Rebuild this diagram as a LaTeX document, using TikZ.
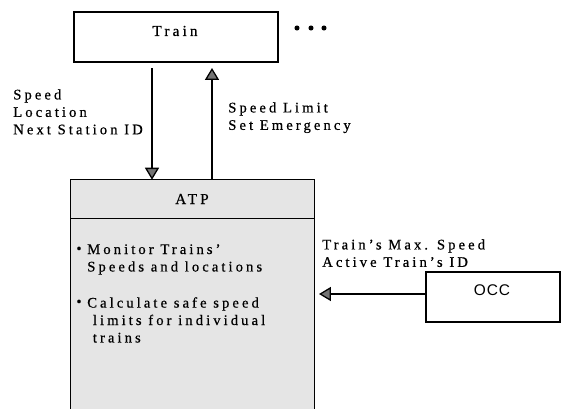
\documentclass[tikz,border=0pt]{standalone}
\usepackage{fontspec}
\setmainfont{Liberation Serif}[LetterSpace=21,FakeBold=0.6]
\newfontfamily\occfont{Liberation Sans}[LetterSpace=6]
\usetikzlibrary{arrows.meta}

\begin{document}
\begin{tikzpicture}[x=0.025cm,y=-0.025cm,unit/.style={draw,line width=1pt,fill=white,inner sep=0pt,minimum width=5.1cm,minimum height=1.25cm},txt/.style={inner sep=0pt,align=left,font=\fontsize{10.4}{12.4}\selectfont},flow/.style={line width=0.9pt,-{Triangle[length=8.5pt,width=10pt,fill=black!55]}}]
\useasboundingbox (0,0) rectangle (561,409);
\node[unit] (train) at (176,37) {};
\node[txt,font=\fontsize{10.8}{12}\selectfont] (trainlbl) at (175,31) {Train};
\foreach \i/\x in {1/297,2/311,3/324}
  \node[circle,fill=black,inner sep=0pt,minimum size=3.6pt] (dot\i) at (\x,28) {};
\node[fill=black!10,inner sep=0pt,minimum width=6.075cm,minimum height=5.75cm] (atp) at (192.5,295) {};
\draw[line width=1pt] (atp.south west) -- (atp.north west) -- (atp.north east) -- (atp.south east);
\draw[line width=1pt] ([yshift=-0.975cm]atp.north west) -- ([yshift=-0.975cm]atp.north east);
\node[txt,font=\fontsize{10.8}{12}\selectfont] (atplbl) at (192,199) {ATP};
\node[unit,minimum width=3.35cm] (occ) at (493,297) {};
\node[inner sep=0pt,font=\occfont\fontsize{11}{12}\selectfont] (occlbl) at (492,290) {OCC};
\coordinate (dntop) at (152,68);
\coordinate (uptop) at (212,68);
\coordinate (occtip) at (319,294);
\draw[flow] (dntop) -- (dntop |- atp.north);
\draw[flow] (uptop |- atp.north) -- (uptop);
\draw[flow] (occ.west |- occtip) -- (occtip);
\node[txt,anchor=north west] (trainout) at (13,89) {Speed\\Location\\Next Station ID};
\node[txt,anchor=north west] (trainin) at (228,102) {Speed Limit\\Set Emergency};
\node[txt,anchor=north west] (occout) at (322,239) {Train's Max. Speed\\Active Train's ID};
\node[txt] (bul1) at (79,250) {\textbullet};
\node[txt,anchor=north west] (monitor) at (87,244) {Monitor Trains'\\Speeds and locations};
\node[txt] (bul2) at (79,303) {\textbullet};
\node[txt,anchor=north west] (calc) at (87,297) {Calculate safe speed\\\hspace*{4pt}limits for individual\\\hspace*{4pt}trains};
\end{tikzpicture}
\end{document}
